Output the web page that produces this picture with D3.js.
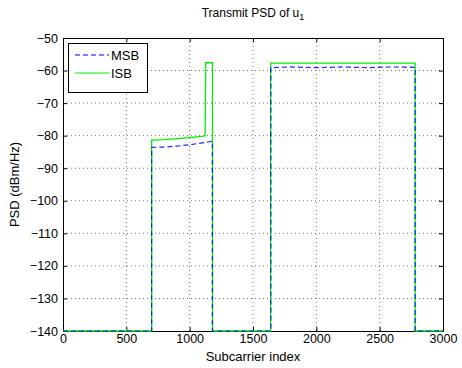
<!DOCTYPE html>
<html>
<head>
<meta charset="utf-8">
<script src="https://cdn.jsdelivr.net/npm/d3@7"></script>
<style>
  body { margin: 0; background: #fff; }
  text { font-family: "Liberation Sans", Arial, sans-serif; }
</style>
</head>
<body>
<div id="chart"></div>
<script>
// data
const msbX = [0, 700, 700, 800, 900, 1000, 1100, 1180, 1180, 1640, 1640, 1800, 2000, 2200, 2400, 2600, 2780, 2780, 3000];
const msbY = [-140, -140, -83.6, -83.5, -83.2, -82.8, -82.2, -81.7, -140, -140, -59.1, -58.9, -59.1, -58.9, -59.1, -58.9, -59, -140, -140];
const isbX = [0, 700, 700, 800, 900, 1000, 1100, 1122, 1127, 1180, 1180, 1640, 1640, 2780, 2780, 3000];
const isbY = [-140, -140, -81.4, -81.2, -80.9, -80.6, -80.2, -80, -57.6, -57.6, -140, -140, -57.7, -57.7, -140, -140];
const xTicks = [0, 500, 1000, 1500, 2000, 2500, 3000];
const yTicks = [-50, -60, -70, -80, -90, -100, -110, -120, -130, -140];

const W = 462, H = 368;
const mLeft = 63, mRight = 443, mTop = 38, mBottom = 331;

const svg = d3.select('#chart').append('svg')
  .attr('width', W).attr('height', H);

const x = d3.scaleLinear().domain([0, 3000]).range([mLeft, mRight]);
const y = d3.scaleLinear().domain([-140, -50]).range([mBottom, mTop]);

// grid
svg.append('g').selectAll('line').data(xTicks.slice(1, -1)).enter().append('line')
  .attr('x1', d => x(d)).attr('x2', d => x(d)).attr('y1', mTop).attr('y2', mBottom)
  .attr('stroke', '#777').attr('stroke-width', 1).attr('stroke-dasharray', '1,3');
svg.append('g').selectAll('line').data(yTicks.slice(1, -1)).enter().append('line')
  .attr('x1', mLeft).attr('x2', mRight).attr('y1', d => y(d)).attr('y2', d => y(d))
  .attr('stroke', '#777').attr('stroke-width', 1).attr('stroke-dasharray', '1,3');

// axes
const xAxis = d3.axisBottom(x).tickValues(xTicks).tickSize(-4).tickPadding(3).tickFormat(d3.format('d'));
const yAxis = d3.axisLeft(y).tickValues(yTicks).tickSize(-4).tickPadding(5)
  .tickFormat(d => d3.format('d')(d).replace('-', '\u2212'));
const gx = svg.append('g').attr('transform', `translate(0,${mBottom})`).call(xAxis);
const gy = svg.append('g').attr('transform', `translate(${mLeft},0)`).call(yAxis);
const gx2 = svg.append('g').attr('transform', `translate(0,${mTop})`)
  .call(d3.axisTop(x).tickValues(xTicks).tickSize(-4).tickFormat(''));
const gy2 = svg.append('g').attr('transform', `translate(${mRight},0)`)
  .call(d3.axisRight(y).tickValues(yTicks).tickSize(-4).tickFormat(''));
[gx, gy, gx2, gy2].forEach(g => {
  g.select('.domain').attr('stroke', '#000');
  g.selectAll('.tick line').attr('stroke', '#000');
  g.selectAll('text').attr('font-size', 12.5).attr('fill', '#000')
    .style('font-family', '"Liberation Sans", Arial, sans-serif');
});

// series
const line = d3.line().x(d => x(d[0])).y(d => y(d[1]));
const msb = msbX.map((v, i) => [v, msbY[i]]);
const isb = isbX.map((v, i) => [v, isbY[i]]);

svg.append('path').datum(isb).attr('d', line)
  .attr('fill', 'none').attr('stroke', '#00f000').attr('stroke-width', 1.3);
svg.append('path').datum(msb).attr('d', line)
  .attr('fill', 'none').attr('stroke', '#0000ff').attr('stroke-width', 1.2)
  .attr('stroke-dasharray', '5,3').attr('stroke-opacity', 0.85);

// legend
const lg = svg.append('g');
lg.append('rect').attr('x', 68.5).attr('y', 43.5).attr('width', 79).attr('height', 49)
  .attr('fill', '#fff').attr('stroke', '#000');
lg.append('line').attr('x1', 75).attr('x2', 109).attr('y1', 55).attr('y2', 55)
  .attr('stroke', '#0000ff').attr('stroke-width', 1.2).attr('stroke-dasharray', '5,3');
lg.append('line').attr('x1', 75).attr('x2', 109).attr('y1', 73).attr('y2', 73)
  .attr('stroke', '#00f000').attr('stroke-width', 1.2);
lg.append('text').attr('x', 111).attr('y', 59.5).attr('font-size', 13).text('MSB');
lg.append('text').attr('x', 111).attr('y', 77.5).attr('font-size', 13).text('ISB');

// titles
const title = svg.append('text').attr('x', 253).attr('y', 17).attr('text-anchor', 'middle')
  .attr('font-size', 12);
title.append('tspan').text('Transmit PSD of u');
title.append('tspan').attr('font-size', 9).attr('dy', 3).text('1');

svg.append('text').attr('x', 253).attr('y', 361).attr('text-anchor', 'middle')
  .attr('font-size', 13).text('Subcarrier index');
svg.append('text').attr('transform', `translate(19,${(mTop + mBottom) / 2}) rotate(-90)`)
  .attr('text-anchor', 'middle').attr('font-size', 13).text('PSD (dBm/Hz)');
</script>
</body>
</html>
